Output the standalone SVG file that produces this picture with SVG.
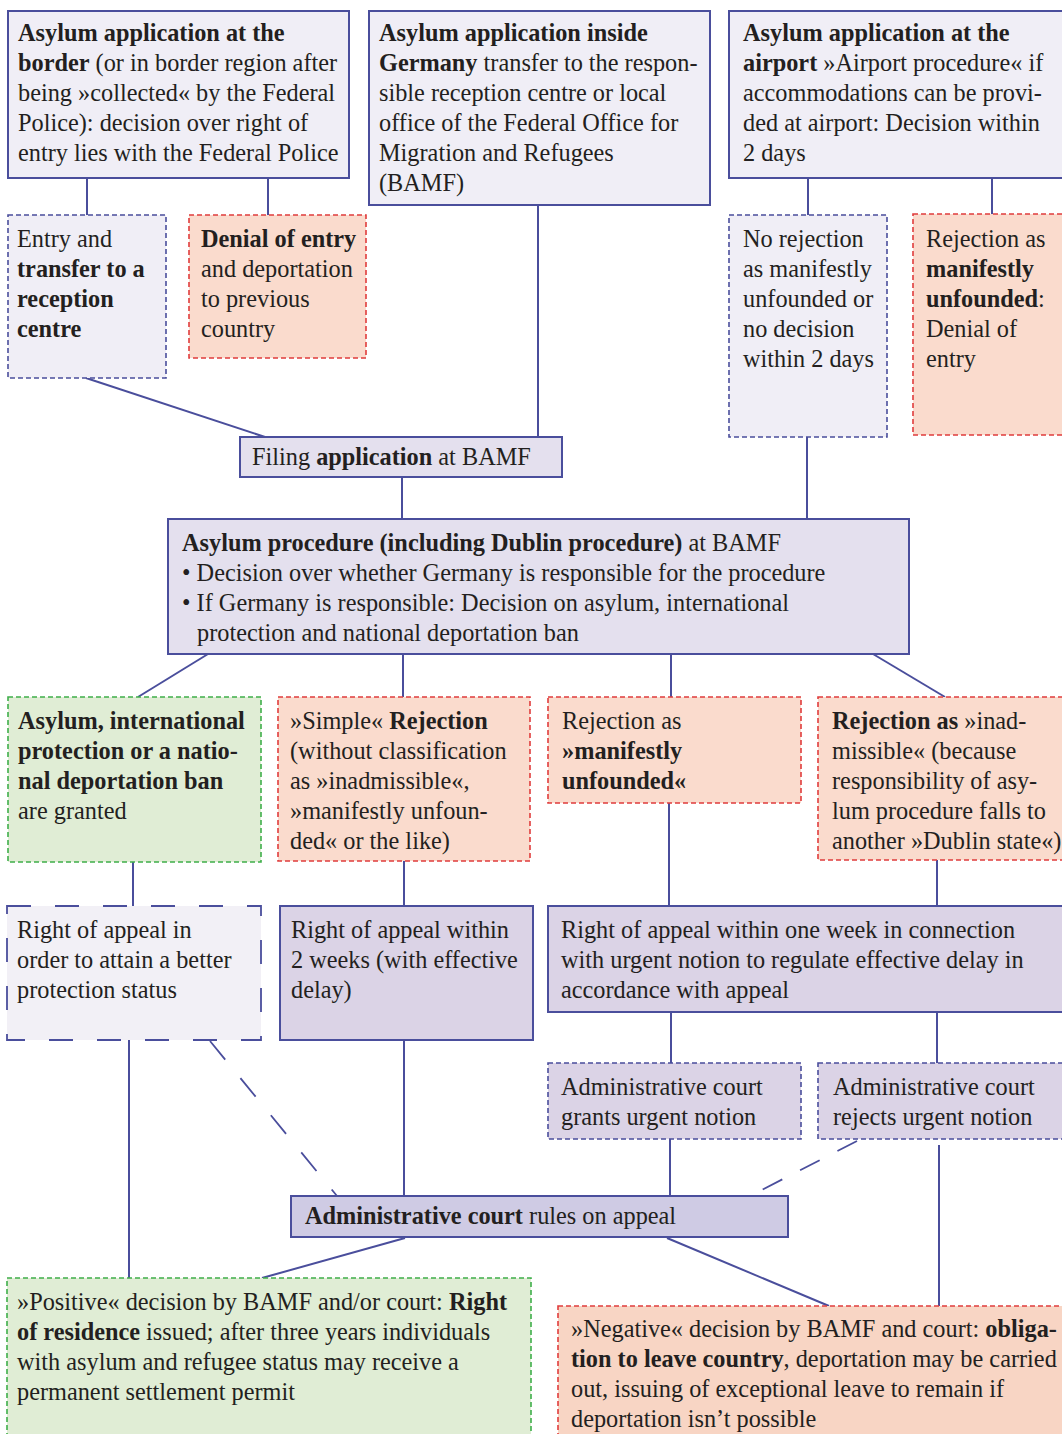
<svg xmlns="http://www.w3.org/2000/svg" width="1062" height="1434" viewBox="0 0 1062 1434">
<style>
text{font-family:"Liberation Serif","Times New Roman",serif;font-size:24.3px;fill:#231f20}
.b{font-weight:bold}
.solid{stroke:#4a4e9c;stroke-width:2}
.dblue{stroke:#4a4e9c;stroke-width:1.6;stroke-dasharray:5 3}
.dred{stroke:#e03c3c;stroke-width:1.6;stroke-dasharray:5 3}
.dgreen{stroke:#3fae4a;stroke-width:1.6;stroke-dasharray:5 3}
.long{stroke:#4a4e9c;stroke-width:1.8;stroke-dasharray:24 24}
.f1{fill:#f0eef6}
.f2{fill:#e4e0ee}
.f3{fill:#dbd3e6}
.f4{fill:#cfcbe4}
.fr{fill:#fadbcd}
.fg{fill:#e0edd5}
.c{stroke:#4a4e9c;stroke-width:2;fill:none}
.cd{stroke:#4a4e9c;stroke-width:1.8;fill:none;stroke-dasharray:24 24}
</style>
<rect width="1062" height="1434" fill="#ffffff"/>
<g id="connectors">
<line class="c" x1="87" y1="178" x2="87" y2="215"/>
<line class="c" x1="268" y1="178" x2="268" y2="215"/>
<line class="c" x1="538" y1="205" x2="538" y2="437"/>
<line class="c" x1="808" y1="178" x2="808" y2="215"/>
<line class="c" x1="992" y1="178" x2="992" y2="214"/>
<line class="c" x1="86" y1="378" x2="265" y2="437"/>
<line class="c" x1="402" y1="477" x2="402" y2="519"/>
<line class="c" x1="807" y1="437" x2="807" y2="519"/>
<line class="c" x1="208" y1="654" x2="138" y2="697"/>
<line class="c" x1="403" y1="654" x2="403" y2="697"/>
<line class="c" x1="671" y1="654" x2="671" y2="697"/>
<line class="c" x1="873" y1="654" x2="945" y2="697"/>
<line class="c" x1="133" y1="862" x2="133" y2="906"/>
<line class="c" x1="404" y1="861" x2="404" y2="906"/>
<line class="c" x1="669" y1="803" x2="669" y2="906"/>
<line class="c" x1="937" y1="860" x2="937" y2="906"/>
<line class="c" x1="671" y1="1012" x2="671" y2="1063"/>
<line class="c" x1="937" y1="1012" x2="937" y2="1063"/>
<line class="c" x1="129" y1="1040" x2="129" y2="1278"/>
<line class="cd" x1="210" y1="1041" x2="337" y2="1196"/>
<line class="c" x1="404" y1="1040" x2="404" y2="1196"/>
<line class="c" x1="670" y1="1139" x2="670" y2="1196"/>
<line class="cd" x1="857" y1="1141" x2="750" y2="1196" style="stroke-dasharray:22 20"/>
<line class="c" x1="939" y1="1145" x2="939" y2="1306"/>
<line class="c" x1="405" y1="1238" x2="262" y2="1278"/>
<line class="c" x1="667" y1="1238" x2="829" y2="1306"/>
</g>
<g id="n-border">
<rect class="solid f1" x="8" y="11" width="341" height="167"/>
<text x="18" y="41" class="b">Asylum application at the</text>
<text x="18" y="71"><tspan class="b">border</tspan> (or in border region after</text>
<text x="18" y="101">being »collected« by the Federal</text>
<text x="18" y="131">Police): decision over right of</text>
<text x="18" y="161">entry lies with the Federal Police</text>
</g>
<g id="n-inside">
<rect class="solid f1" x="369" y="11" width="341" height="194"/>
<text x="379" y="41" class="b">Asylum application inside</text>
<text x="379" y="71"><tspan class="b">Germany</tspan> transfer to the respon-</text>
<text x="379" y="101">sible reception centre or local</text>
<text x="379" y="131">office of the Federal Office for</text>
<text x="379" y="161">Migration and Refugees</text>
<text x="379" y="191">(BAMF)</text>
</g>
<g id="n-airport">
<rect class="solid f1" x="729" y="11" width="340" height="167"/>
<text x="743" y="41" class="b">Asylum application at the</text>
<text x="743" y="71"><tspan class="b">airport</tspan> »Airport procedure« if</text>
<text x="743" y="101">accommodations can be provi-</text>
<text x="743" y="131">ded at airport: Decision within</text>
<text x="743" y="161">2 days</text>
</g>
<g id="n-entry">
<rect class="dblue f1" x="8" y="215" width="158" height="163"/>
<text x="17" y="247">Entry and</text>
<text x="17" y="277" class="b">transfer to a</text>
<text x="17" y="307" class="b">reception</text>
<text x="17" y="337" class="b">centre</text>
</g>
<g id="n-denial">
<rect class="dred fr" x="189" y="215" width="177" height="143"/>
<text x="201" y="247" class="b">Denial of entry</text>
<text x="201" y="277">and deportation</text>
<text x="201" y="307">to previous</text>
<text x="201" y="337">country</text>
</g>
<g id="n-norejection">
<rect class="dblue f1" x="729" y="215" width="158" height="222"/>
<text x="743" y="247">No rejection</text>
<text x="743" y="277">as manifestly</text>
<text x="743" y="307">unfounded or</text>
<text x="743" y="337">no decision</text>
<text x="743" y="367">within 2 days</text>
</g>
<g id="n-airport-reject">
<rect class="dred fr" x="913" y="214" width="156" height="221"/>
<text x="926" y="247">Rejection as</text>
<text x="926" y="277" class="b">manifestly</text>
<text x="926" y="307"><tspan class="b">unfounded</tspan>:</text>
<text x="926" y="337">Denial of</text>
<text x="926" y="367">entry</text>
</g>
<g id="n-filing">
<rect class="solid f2" x="240" y="437" width="322" height="40"/>
<text x="252" y="465">Filing <tspan class="b">application</tspan> at BAMF</text>
</g>
<g id="n-procedure">
<rect class="solid f2" x="168" y="519" width="741" height="135"/>
<text x="182" y="551"><tspan class="b">Asylum procedure (including Dublin procedure)</tspan> at BAMF</text>
<text x="182" y="581">• Decision over whether Germany is responsible for the procedure</text>
<text x="182" y="611">• If Germany is responsible: Decision on asylum, international</text>
<text x="197" y="641">protection and national deportation ban</text>
</g>
<g id="n-granted">
<rect class="dgreen fg" x="8" y="697" width="253" height="165"/>
<text x="18" y="729" class="b">Asylum, international</text>
<text x="18" y="759" class="b">protection or a natio-</text>
<text x="18" y="789" class="b">nal deportation ban</text>
<text x="18" y="819">are granted</text>
</g>
<g id="n-simple">
<rect class="dred fr" x="278" y="697" width="252" height="164"/>
<text x="290" y="729">»Simple« <tspan class="b">Rejection</tspan></text>
<text x="290" y="759">(without classification</text>
<text x="290" y="789">as »inadmissible«,</text>
<text x="290" y="819">»manifestly unfoun-</text>
<text x="290" y="849">ded« or the like)</text>
</g>
<g id="n-manifest">
<rect class="dred fr" x="548" y="697" width="253" height="106"/>
<text x="562" y="729">Rejection as</text>
<text x="562" y="759" class="b">»manifestly</text>
<text x="562" y="789" class="b">unfounded«</text>
</g>
<g id="n-inadmissible">
<rect class="dred fr" x="818" y="697" width="250" height="163"/>
<text x="832" y="729"><tspan class="b">Rejection as</tspan> »inad-</text>
<text x="832" y="759">missible« (because</text>
<text x="832" y="789">responsibility of asy-</text>
<text x="832" y="819">lum procedure falls to</text>
<text x="832" y="849">another »Dublin state«)</text>
</g>
<g id="n-better">
<rect class="long" fill="#f2f0f6" x="7" y="906" width="254" height="134"/>
<text x="17" y="938">Right of appeal in</text>
<text x="17" y="968">order to attain a better</text>
<text x="17" y="998">protection status</text>
</g>
<g id="n-twoweeks">
<rect class="solid f3" x="280" y="906" width="253" height="134"/>
<text x="291" y="938">Right of appeal within</text>
<text x="291" y="968">2 weeks (with effective</text>
<text x="291" y="998">delay)</text>
</g>
<g id="n-oneweek">
<rect class="solid f3" x="548" y="906" width="520" height="106"/>
<text x="561" y="938">Right of appeal within one week in connection</text>
<text x="561" y="968">with urgent notion to regulate effective delay in</text>
<text x="561" y="998">accordance with appeal</text>
</g>
<g id="n-grants">
<rect class="dblue f3" x="548" y="1063" width="253" height="76"/>
<text x="561" y="1095">Administrative court</text>
<text x="561" y="1125">grants urgent notion</text>
</g>
<g id="n-rejects">
<rect class="dblue f3" x="818" y="1063" width="250" height="76"/>
<text x="833" y="1095">Administrative court</text>
<text x="833" y="1125">rejects urgent notion</text>
</g>
<g id="n-rules">
<rect class="solid f4" x="291" y="1196" width="497" height="41"/>
<text x="305" y="1224"><tspan class="b">Administrative court</tspan> rules on appeal</text>
</g>
<g id="n-positive">
<rect class="dgreen fg" x="7" y="1278" width="524" height="164"/>
<text x="17" y="1310">»Positive« decision by BAMF and/or court: <tspan class="b">Right</tspan></text>
<text x="17" y="1340"><tspan class="b">of residence</tspan> issued; after three years individuals</text>
<text x="17" y="1370">with asylum and refugee status may receive a</text>
<text x="17" y="1400">permanent settlement permit</text>
</g>
<g id="n-negative">
<rect class="dred" fill="#f8d5c4" x="558" y="1306" width="510" height="136"/>
<text x="571" y="1337">»Negative« decision by BAMF and court: <tspan class="b">obliga-</tspan></text>
<text x="571" y="1367"><tspan class="b">tion to leave country</tspan>, deportation may be carried</text>
<text x="571" y="1397">out, issuing of exceptional leave to remain if</text>
<text x="571" y="1427">deportation isn’t possible</text>
</g>
</svg>
